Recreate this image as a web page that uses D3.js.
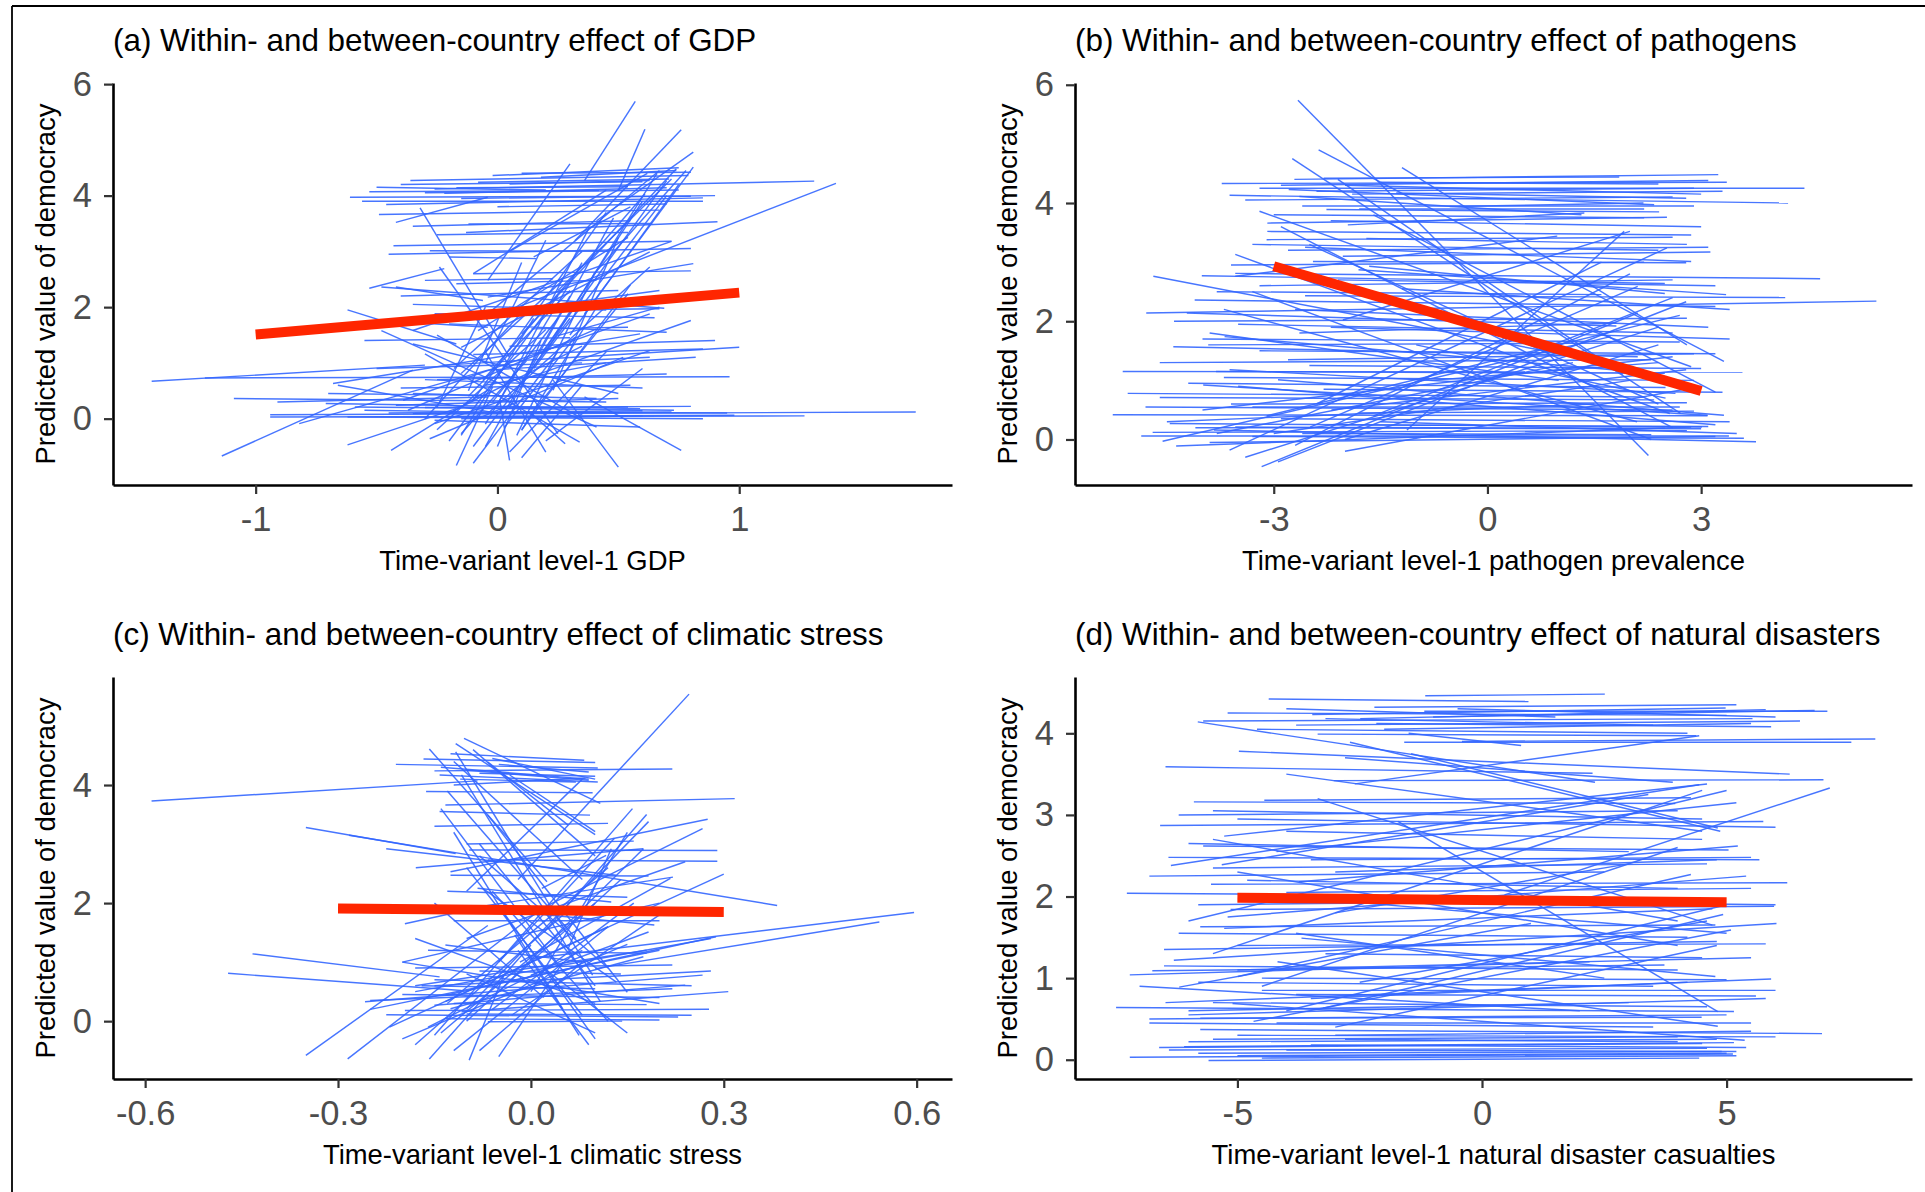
<!DOCTYPE html>
<html>
<head>
<meta charset="utf-8">
<script src="https://cdn.jsdelivr.net/npm/d3@7"></script>
<style>
  body { margin: 0; background: #fff; }
  text { font-family: "Liberation Sans", Arial, Helvetica, sans-serif; }
</style>
</head>
<body>
<div id="main"></div>
<script>
const ctx = {
    w: 1925,
    h: 1192
};

// panel titles and axis labels
const titles = [
    "(a) Within- and between-country effect of GDP",
    "(b) Within- and between-country effect of pathogens",
    "(c) Within- and between-country effect of climatic stress",
    "(d) Within- and between-country effect of natural disasters"
];
const xLabels = [
    "Time-variant level-1 GDP",
    "Time-variant level-1 pathogen prevalence",
    "Time-variant level-1 climatic stress",
    "Time-variant level-1 natural disaster casualties"
];
const yLabel = "Predicted value of democracy";

// tick values
const xTicksA = [-1, 0, 1];
const xTicksB = [-3, 0, 3];
const xTicksC = [-0.6, -0.3, 0, 0.3, 0.6];
const xTicksD = [-5, 0, 5];
const yTicksA = [0, 2, 4, 6];
const yTicksB = [0, 2, 4, 6];
const yTicksC = [0, 2, 4];
const yTicksD = [0, 1, 2, 3, 4];

// axis ranges (data units)
const xDomA = [-1.59, 1.88], yDomA = [-1.19, 6.02];
const xDomB = [-5.79, 5.96], yDomB = [-0.77, 6.03];
const xDomC = [-0.65, 0.655], yDomC = [-0.98, 5.83];
const xDomD = [-8.32, 8.79], yDomD = [-0.236, 4.69];

// overall (between-country) effect: [x1, y1, x2, y2]
const redA = [-1, 1.51, 1, 2.26];
const redB = [-3, 2.93, 3, 0.82];
const redC = [-0.3, 1.91, 0.3, 1.85];
const redD = [-5, 1.985, 5, 1.93];

// within-country lines, one per country: [x1, y1, x2, y2]
const gdpLines = [
[-0.36,4.27,0.79,4.36],[-0.02,4.36,0.75,4.50],[-0.53,4.07,0.42,4.09],[-0.61,3.97,0.80,3.99],
[-0.56,3.90,0.85,3.90],[-0.46,3.84,0.85,3.96],[-0.26,4.12,1.31,4.26],[-0.22,4.04,0.70,4.14],
[-0.08,4.24,0.71,4.30],[-0.17,4.14,0.54,4.16],[-0.49,3.66,0.67,3.74],[-0.42,3.52,-0.04,3.97],
[-0.12,3.49,0.64,3.50],[-0.25,3.30,0.54,3.34],[-0.43,3.10,0.72,3.18],[-0.28,3.01,0.46,3.00],
[-0.20,2.90,0.16,2.87],[-0.13,3.34,0.91,3.53],[0.05,4.21,0.63,4.27],[0.18,4.33,0.74,4.45],
[0.36,4.27,0.57,5.69],[0.50,4.09,0.61,5.19],[0.32,3.19,0.76,5.18],[0.41,3.55,0.81,4.78],
[-0.32,3.78,0.05,1.10],[0.01,1.88,1.40,4.22],[-1.14,-0.67,-0.35,0.87],[-1.43,0.67,-0.30,0.96],
[-1.21,0.73,0.96,0.75],[-1.09,0.36,0.45,0.30],[-0.94,0.07,1.73,0.12],[-0.94,0.03,1.27,0.05],
[-0.62,-0.47,-0.17,0.18],[-0.44,-0.57,-0.04,0.51],[-0.17,-0.84,-0.02,0.57],[0.05,-0.75,0.01,0.33],
[0.50,-0.87,0.23,0.69],[0.76,-0.57,0.36,0.39],[0.28,-0.45,0.14,0.09],[-0.53,2.34,-0.22,2.69],
[-0.62,1.95,-0.17,1.34],[1.00,1.28,-0.22,0.96],[0.82,1.10,-0.04,0.87],[0.81,2.78,-0.04,2.18],
[0.72,3.18,-0.35,1.58],[0.67,2.30,-0.04,1.88],[0.69,1.98,-0.48,2.36],[0.80,1.76,0.10,0.69],
[0.63,2.99,-0.15,1.28],[0.54,3.25,-0.08,1.58],[0.67,4.45,-0.04,1.88],[0.74,4.48,0.10,1.52],
[0.70,4.27,0.18,1.16],[0.61,4.03,-0.06,0.69],[0.45,3.70,-0.10,0.33],[0.81,4.51,0.36,1.88],
[0.30,4.57,-0.04,2.48],[-0.24,2.72,0.25,-0.27],[-0.35,1.34,0.50,0.45],[-0.48,1.58,0.41,-0.15],
[-0.30,1.16,0.34,-0.42],[0.63,1.22,-0.26,-0.09],[0.52,1.10,-0.28,-0.36],[0.41,1.61,-0.37,0.15],
[0.59,1.52,-0.68,0.63],[0.63,1.88,-0.39,0.33],[-0.82,-0.09,-0.04,0.87],[-0.66,0.60,0.01,0.09],
[-0.71,0.27,0.59,0.18],[-0.59,0.21,0.73,0.15],[-0.42,0.24,0.50,0.36],[-0.26,-0.03,0.59,-0.15],
[-0.15,-0.27,0.12,1.04],[0.03,-0.15,0.32,1.46],[0.10,-0.21,0.41,2.00],[0.14,0.09,0.54,2.24],
[-0.04,0.09,0.63,2.72],[0.23,0.51,0.50,3.25],[-0.15,0.81,0.27,2.48],[0.01,0.33,0.38,3.43],
[-0.30,2.48,0.23,2.51],[-0.17,2.42,0.41,2.48],[-0.42,2.36,-0.06,2.12],[-0.26,1.88,0.65,1.81],
[-0.04,1.94,0.67,1.97],[-0.48,1.76,-0.04,1.64],[0.14,1.61,0.54,1.64],[0.25,1.49,0.67,2.00],
[0.32,1.04,0.63,1.10],[-0.62,0.03,0.85,0.00],[-0.35,0.09,0.72,0.12],[-0.21,0.04,0.98,0.06],
[-0.08,0.18,0.54,0.21],[-0.35,0.45,0.41,0.36],[-0.91,0.30,-0.04,0.39],[-0.10,-0.50,0.30,1.80],
[0.20,-0.60,-0.05,1.20],[-0.20,0.10,0.35,1.30],[0.35,0.00,-0.25,1.50],[-0.05,0.60,0.45,1.00],
[0.60,0.55,-0.30,0.70],[0.15,2.90,0.55,3.80],[-0.10,2.60,0.45,4.10],[0.05,3.00,0.62,4.40],
[0.25,2.30,0.72,4.30],
[-0.45,0.10,0.60,0.14],[-0.30,0.20,0.80,0.22],[-0.55,0.15,0.25,0.10],[-0.15,0.00,0.60,0.05],
[0.00,0.12,0.95,0.10],[-0.70,0.45,0.20,0.40],[-0.40,0.55,0.55,0.60],[-0.25,0.70,0.70,0.80],
[-0.50,0.90,0.35,1.00],[-0.10,1.15,0.85,1.25],
[-0.20,-0.40,0.25,2.20],[-0.05,-0.10,0.35,2.80],[0.05,0.20,0.48,3.60],[-0.12,0.40,0.30,2.30],
[0.10,0.60,0.60,3.90],[-0.25,-0.20,0.20,1.60],[0.00,-0.50,0.18,1.40],[0.15,0.90,0.70,4.00],
[0.20,1.20,0.66,4.40],[-0.30,0.00,0.10,1.90],[0.08,-0.30,0.40,2.60],[-0.18,0.90,0.35,3.00],
[0.30,1.50,0.75,4.20],[0.40,2.60,0.78,4.45],[-0.02,0.30,0.25,1.80],
[0.30,2.20,-0.05,-0.50],[0.15,1.80,-0.15,-0.30],[0.55,2.40,0.10,-0.20],[0.10,2.80,-0.12,0.50],
[0.45,1.20,0.05,-0.60],[0.20,3.20,-0.05,1.00],[0.35,0.60,0.10,-0.70],[-0.05,2.00,-0.25,0.20],
[0.25,1.20,-0.10,-0.80],[0.60,0.90,0.20,-0.40],
[-0.40,4.20,0.60,4.25],[-0.30,4.05,0.75,4.10],[0.10,4.40,0.80,4.42],[-0.50,4.15,0.20,4.10],
[-0.15,3.95,0.90,4.00],[0.00,3.80,0.70,3.85],[-0.35,3.45,0.55,3.55],[-0.45,2.95,0.80,3.05],
[-0.40,2.20,0.50,2.30],[-0.20,1.70,0.70,1.55],[-0.55,1.40,0.30,1.45],[-0.10,2.60,0.80,2.65],
[0.05,1.30,0.90,1.40],[-0.35,2.05,0.45,1.95]
];

const pathogenLines = [
[-3.73,4.33,3.36,4.35],[-2.71,4.40,3.24,4.48],[-2.30,4.42,1.85,4.44],[-3.20,4.25,4.45,4.25],
[-3.62,4.13,4.22,4.00],[-2.79,4.23,2.34,3.97],[-2.26,3.89,2.41,3.85],[-1.96,3.63,1.36,3.83],
[-3.09,3.66,2.52,3.76],[-1.28,4.17,2.79,4.08],[-0.53,3.94,2.19,4.00],[-2.64,4.11,1.32,3.80],
[-3.10,3.38,2.60,3.42],[-2.56,3.25,2.86,3.01],[-2.03,3.10,3.13,3.17],[-2.45,3.01,2.79,2.99],
[-3.54,2.81,4.67,2.72],[-4.01,2.77,2.49,2.64],[-1.81,2.87,3.35,2.45],[-2.56,2.43,4.18,2.40],
[-4.11,2.36,3.20,2.25],[-4.79,2.14,5.46,2.34],[-4.22,2.14,1.81,1.92],[-4.69,2.76,2.19,1.18],
[-3.54,3.13,2.56,0.44],[-2.66,5.74,2.26,-0.27],[-2.37,4.90,3.32,1.32],[-2.74,4.75,2.71,0.44],
[-3.20,3.86,2.86,1.23],[-4.41,1.57,2.11,1.40],[-5.12,1.15,3.58,1.14],[-3.99,0.92,3.09,0.41],
[-5.05,0.78,2.19,0.72],[-5.26,0.42,3.09,0.40],[-4.86,0.06,3.39,0.06],[-3.84,0.16,3.77,-0.04],
[-4.37,-0.11,2.86,0.21],[-3.17,-0.46,2.11,2.14],[-2.94,-0.38,2.79,2.33],[-4.56,-0.03,1.73,1.74],
[-3.62,-0.18,2.52,3.24],[-1.13,0.16,1.92,3.52],[-2.49,0.21,2.11,2.59],[-3.09,3.52,2.86,3.46],
[-3.92,1.60,1.88,1.63],[-3.81,1.15,2.49,1.12],[-4.60,0.71,2.34,0.67],[-4.46,0.27,3.01,0.21],
[-2.19,0.50,2.79,1.18],[-3.54,0.21,2.49,0.19],[-2.64,1.80,1.81,1.97],[-3.69,1.74,2.34,1.12],
[-1.66,2.93,2.49,2.47],[-3.54,2.76,0.98,3.44],[2.00,3.52,-2.03,2.02],[2.64,0.78,-3.62,1.18],
[3.32,0.41,-2.94,1.01],[-4.00,0.50,2.60,1.40],[-3.00,0.10,2.00,1.00],[-2.00,-0.20,3.00,0.90],
[-4.50,0.30,1.50,0.60],[-3.50,0.90,3.20,0.25],[-1.50,0.30,3.50,0.10],[-2.80,1.35,2.90,1.45],
[-1.00,1.60,2.50,0.70],[-3.30,0.55,2.70,0.55],[-2.20,1.90,3.40,1.70],[-0.80,1.00,2.40,1.30],
[-3.90,1.80,1.00,1.00],[-1.80,3.90,2.20,3.90],[-2.00,4.30,3.00,4.15],
[-2.90,4.30,3.10,4.38],[-2.40,4.20,2.90,4.25],[-3.40,4.05,2.60,4.10],[-1.90,4.15,3.30,4.20],
[-2.60,3.95,2.90,3.95],[-1.50,4.35,2.40,4.32],[-3.00,3.80,2.20,3.75],[-2.20,3.70,3.00,3.60],
[-3.30,3.30,2.40,3.20],[-2.80,3.20,3.10,3.25],[-1.70,3.40,2.80,3.30],[-3.60,2.95,2.20,3.00],
[-2.10,2.70,3.20,2.60],[-3.20,2.60,2.60,2.70],[-1.20,2.55,3.40,2.20],[-3.80,2.50,1.60,2.45],
[-4.40,2.00,2.80,2.05],[-3.50,1.95,2.60,1.80],[-2.70,2.20,3.10,1.90],[-4.00,1.70,2.70,1.65],
[-3.20,1.50,3.20,1.45],[-4.60,1.30,2.30,1.35],[-2.50,1.25,3.00,1.20],[-3.70,1.05,2.90,1.00],
[-4.20,0.95,2.50,0.88],[-2.30,0.85,3.30,0.80],
[-3.60,0.60,2.80,0.62],[-4.80,0.55,2.60,0.50],[-2.90,0.35,3.40,0.30],[-4.10,0.20,3.00,0.18],
[-3.30,0.05,3.60,0.02],[-2.60,0.10,2.30,0.08],[-4.70,0.12,2.80,0.15],[-3.90,-0.05,3.20,0.05],
[-2.20,0.25,3.10,0.22],[-1.80,0.45,2.90,0.48],
[-3.40,-0.30,2.40,1.90],[-2.70,-0.10,2.00,2.80],[-3.10,0.40,2.70,2.10],[-2.00,0.00,2.40,1.60],
[-3.80,0.10,1.20,1.30],[-1.60,0.40,2.60,2.40],[-2.40,0.60,1.60,3.00],
[-2.90,3.60,2.60,0.20],[-2.10,4.40,1.90,1.10],[-3.30,2.50,2.30,0.00],[-1.60,3.80,3.20,0.80],
[-2.50,3.30,2.40,0.60],[-3.70,2.20,2.10,0.30],[-1.20,4.60,2.80,1.60]
];

const climateLines = [
[-0.59,3.73,-0.083,4.07],[-0.21,4.35,0.104,4.29],[-0.167,4.44,0.10,4.38],[-0.125,4.53,0.083,4.42],
[-0.15,4.24,0.22,4.27],[-0.142,4.17,0.104,4.05],[-0.163,3.89,0.096,3.87],[-0.133,3.66,0.317,3.77],
[-0.142,3.55,0.092,3.49],[-0.104,4.79,0.108,3.69],[-0.117,4.70,0.10,3.16],[-0.158,4.61,0.025,2.36],
[0.246,5.54,-0.02,2.40],[-0.35,3.28,-0.117,2.84],[-0.283,3.15,0.383,1.96],[-0.225,2.92,0.133,2.47],
[-0.179,2.60,0.175,2.92],[-0.096,2.90,0.29,2.89],[-0.067,2.73,0.29,2.71],[-0.125,2.47,0.183,2.46],
[-0.433,1.14,-0.142,0.75],[-0.471,0.81,-0.108,0.52],[0.596,1.84,0.0,1.06],[0.542,1.68,0.10,0.89],
[-0.196,1.65,-0.067,1.96],[0.275,3.42,-0.125,2.53],[0.267,3.26,0.017,1.91],[0.30,2.49,-0.133,0.33],
[0.221,2.44,-0.067,1.96],[-0.35,-0.58,-0.067,1.62],[-0.285,-0.64,0.017,1.91],[-0.158,-0.64,0.0,1.29],
[-0.096,-0.66,-0.042,0.78],[-0.258,0.33,0.267,0.78],[-0.225,0.11,0.229,0.07],[-0.196,0.18,0.277,0.20],
[-0.133,0.04,0.20,0.02],[-0.067,-0.01,0.142,0.0],[0.307,0.50,-0.108,0.16],[0.24,0.61,-0.15,0.27],
[0.288,1.43,-0.133,0.44],[0.175,1.09,-0.125,0.21],[0.075,-0.24,-0.025,1.46],[0.133,0.66,-0.075,2.25],
[0.15,0.49,-0.067,3.49],[0.108,0.33,-0.108,4.17],[0.096,0.78,-0.117,4.56],[-0.15,-0.24,0.158,3.60],
[-0.10,0.21,0.183,3.38],[-0.05,0.50,0.175,2.92],[-0.017,1.00,0.217,2.42],[0.192,1.63,-0.083,1.91],
[0.058,1.23,0.125,2.92],[0.017,2.25,0.117,2.81],[-0.133,1.29,0.083,1.00],[-0.033,4.17,0.10,3.21],
[-0.067,4.39,0.058,3.32],[-0.083,2.25,0.125,2.02],[0.0,0.78,0.183,1.51],[-0.12,-0.50,0.12,1.60],
[-0.05,-0.60,0.05,1.00],[-0.20,-0.30,0.15,1.30],[-0.10,0.80,0.10,-0.20],[0.02,0.90,0.15,-0.20],
[-0.25,0.35,0.22,0.55],[-0.15,0.60,0.28,0.85],[-0.18,1.40,0.10,0.30],[-0.08,2.80,0.12,0.90],
[-0.13,3.90,0.07,1.40],[0.08,4.10,-0.10,2.20],[-0.06,4.45,0.10,4.10],[-0.10,4.25,0.09,4.08],
[-0.12,4.00,0.085,4.12],
[-0.18,-0.40,0.05,1.80],[-0.14,-0.20,0.10,2.00],[-0.10,0.00,0.14,2.40],[-0.06,0.20,0.16,2.00],
[-0.16,-0.10,0.08,1.20],[-0.22,-0.10,0.12,1.60],[-0.08,-0.50,0.08,1.00],[-0.03,0.10,0.20,1.80],
[-0.13,0.30,0.12,2.60],[0.00,0.50,0.15,3.20],[-0.05,1.00,0.13,3.10],[0.02,1.50,0.18,3.50],
[-0.12,3.20,0.05,0.20],[-0.10,2.60,0.08,0.10],[-0.06,2.20,0.12,0.00],[-0.14,3.60,0.04,1.00],
[-0.08,3.00,0.10,0.60],[-0.04,1.80,0.10,-0.30],[-0.12,4.40,0.08,2.40],[-0.09,4.60,0.10,2.80],
[-0.15,2.00,0.02,0.40],[-0.02,1.20,0.09,-0.40],
[-0.14,4.30,0.09,4.10],[-0.08,4.20,0.10,4.15],[-0.11,4.10,0.07,4.05],[-0.05,4.35,0.09,4.22],
[-0.15,3.30,0.12,3.35],[-0.10,3.00,0.16,3.05],[-0.13,2.20,0.15,2.10],[-0.12,1.70,0.20,1.70],
[-0.16,1.20,0.18,1.15],[-0.18,0.90,0.22,0.95],[-0.15,0.70,0.25,0.60],[-0.20,0.45,0.20,0.40],
[-0.12,0.30,0.18,0.28],[-0.10,0.12,0.25,0.10],[-0.17,0.60,0.10,0.55],[-0.08,0.85,0.14,0.80],
[-0.25,0.20,0.20,1.20],[-0.18,0.50,0.28,1.40],[-0.20,1.00,0.20,2.00],[-0.10,1.40,0.24,2.70],
[0.20,0.30,-0.20,1.00],[0.18,1.20,-0.18,0.60]
];

const disasterLines = [
[-4.36,4.42,0.95,4.39],[-1.16,4.46,2.51,4.48],[-5.70,4.15,5.53,4.18],[-3.47,4.23,4.98,4.31],
[-2.49,4.18,5.80,4.29],[-2.16,4.12,5.91,4.08],[-3.36,3.99,4.38,3.97],[-1.59,3.89,7.55,3.89],
[-0.41,3.90,8.04,3.93],[-1.18,4.27,7.06,4.27],[-5.81,4.14,2.31,3.40],[-2.70,3.89,4.87,2.80],
[-1.45,3.75,4.82,2.84],[-4.97,3.78,6.29,3.50],[-6.47,3.59,2.26,3.51],[-3.03,3.42,6.98,3.43],
[-2.60,3.38,4.44,3.97],[-5.89,3.16,3.95,3.14],[-4.45,3.18,4.27,3.21],[-6.58,2.87,5.75,2.92],
[-5.27,2.74,4.60,3.38],[-6.36,2.38,4.44,3.37],[-5.32,2.39,3.40,3.25],[-5.70,2.62,5.04,2.57],
[-6.41,2.48,5.67,2.45],[-3.74,2.18,5.23,2.62],[-5.54,2.15,6.24,2.17],[-7.26,2.04,-2.60,2.02],
[-5.14,1.84,5.97,1.88],[7.11,3.33,0.46,2.02],[-5.76,1.63,4.77,1.65],[-5.27,1.61,4.71,1.85],
[-6.30,1.22,6.02,1.67],[-7.20,1.04,2.20,1.20],[-6.74,1.09,3.73,1.16],[-6.19,0.89,1.00,1.67],
[-6.47,0.70,5.91,0.99],[-7.48,0.64,5.15,0.59],[-5.76,0.51,4.49,0.52],[-5.76,0.37,6.95,0.32],
[-6.09,0.16,5.15,0.21],[-7.20,0.03,5.13,0.07],[-5.59,-0.01,4.44,0.02],[-5.10,0.69,5.37,0.24],
[-4.67,0.47,5.09,1.59],[-3.69,1.49,4.77,1.02],[-4.18,1.20,4.82,0.41],[-3.25,0.63,4.93,1.78],
[-1.72,2.92,4.82,0.59],[-3.36,3.20,4.71,1.65],[-4.99,1.02,4.27,2.27],[-6.50,1.35,4.80,1.45],
[-5.00,1.10,5.50,1.25],[-4.50,0.85,6.00,0.85],[-3.50,0.75,4.20,0.95],[-5.50,0.25,4.00,0.28],
[-4.00,0.12,5.20,0.10],[-6.80,0.45,3.50,0.40],[-3.00,1.95,5.00,1.55],[-5.20,1.75,5.40,2.25],
[-2.50,0.95,4.60,1.70],[-4.80,2.20,4.00,2.10],[-6.00,0.55,5.80,0.75],[-3.80,1.55,2.50,1.00],
[-5.50,3.05,4.50,2.95],[-4.20,2.55,5.20,3.15],[-3.00,2.30,4.80,2.45],[-2.00,4.05,5.50,4.12],
[-3.20,4.18,3.50,4.10],[-1.50,4.00,0.80,3.85],[-2.80,3.70,3.90,3.40],[-0.50,4.30,6.00,4.20],
[-4.00,4.30,1.50,4.20],[-6.60,0.15,4.50,0.20],[-5.00,0.05,5.00,0.08],[-3.00,0.30,5.50,0.35],
[-6.00,0.60,3.00,0.70],[-7.00,0.90,2.00,0.60],
[-5.20,4.25,5.00,4.22],[-3.80,4.10,6.50,4.15],[-1.00,4.20,6.80,4.28],[-4.60,4.05,4.20,4.00],
[-2.20,4.32,5.20,4.35],[-6.20,3.00,4.00,3.05],[-5.00,2.95,6.00,2.85],[-4.00,2.80,4.50,2.70],
[-6.00,2.65,3.00,2.55],[-5.50,2.35,4.60,2.40],[-3.50,2.45,5.50,2.48],[-6.80,2.25,2.50,2.30],
[-4.00,2.05,5.50,2.10],[-2.00,1.95,6.00,1.90],[-5.80,1.90,3.00,1.95],[-6.20,1.55,4.20,1.50],
[-5.00,1.40,5.80,1.42],[-3.20,1.30,4.50,1.25],[-6.50,1.15,4.00,1.10],[-4.50,1.00,5.00,0.98],
[-5.80,0.95,3.50,0.90],[-3.80,0.80,5.60,0.78],[-5.50,0.70,4.60,0.65],[-6.80,0.50,5.00,0.55],
[-4.20,0.45,5.50,0.45],[-5.00,0.30,6.00,0.28],[-6.00,0.22,4.80,0.25],[-3.50,0.18,5.40,0.15],
[-5.80,0.08,4.90,0.10],[-4.50,0.02,5.20,0.05],[-6.40,0.12,4.60,0.14],[-2.80,0.25,4.00,0.22],
[-5.50,1.30,4.50,3.30],[-4.50,0.90,4.00,2.60],[-6.00,1.70,5.00,3.30],[-3.00,0.40,4.80,1.40],
[-5.00,2.30,4.00,1.40],[-4.00,3.50,4.50,2.80],[-5.50,2.70,4.00,1.70],[-3.00,1.80,3.00,2.40],
[-4.00,0.60,5.00,1.90]
];

// panel boxes (pixels)
const panels = [
    {left: 113, top: 83, width: 839, height: 402, title: titles[0], xLab: xLabels[0],
     xDom: xDomA, yDom: yDomA, xTicks: xTicksA, yTicks: yTicksA, lines: gdpLines, red: redA, fmt: d => String(d)},
    {left: 1075, top: 83, width: 837, height: 402, title: titles[1], xLab: xLabels[1],
     xDom: xDomB, yDom: yDomB, xTicks: xTicksB, yTicks: yTicksB, lines: pathogenLines, red: redB, fmt: d => String(d)},
    {left: 113, top: 677, width: 839, height: 402, title: titles[2], xLab: xLabels[2],
     xDom: xDomC, yDom: yDomC, xTicks: xTicksC, yTicks: yTicksC, lines: climateLines, red: redC, fmt: d => d.toFixed(1)},
    {left: 1075, top: 677, width: 837, height: 402, title: titles[3], xLab: xLabels[3],
     xDom: xDomD, yDom: yDomD, xTicks: xTicksD, yTicks: yTicksD, lines: disasterLines, red: redD, fmt: d => String(d)}
];

function drawPanel(svg, p) {
    const g = svg.append("g").attr("transform", `translate(${p.left},${p.top})`);
    const x = d3.scaleLinear().domain(p.xDom).range([0, p.width]);
    const y = d3.scaleLinear().domain(p.yDom).range([p.height, 0]);

    // country lines
    g.append("g")
        .selectAll("line")
        .data(p.lines)
        .enter().append("line")
        .attr("x1", d => x(d[0])).attr("y1", d => y(d[1]))
        .attr("x2", d => x(d[2])).attr("y2", d => y(d[3]))
        .attr("stroke", "#3366FF")
        .attr("stroke-opacity", 0.9)
        .attr("stroke-width", 1.45);

    // overall line
    g.append("line")
        .attr("x1", x(p.red[0])).attr("y1", y(p.red[1]))
        .attr("x2", x(p.red[2])).attr("y2", y(p.red[3]))
        .attr("stroke", "#FF2600")
        .attr("stroke-width", 10);

    const xAxis = g.append("g")
        .attr("transform", `translate(0,${p.height})`)
        .call(d3.axisBottom(x).tickValues(p.xTicks).tickFormat(p.fmt).tickSize(9).tickSizeOuter(0).tickPadding(13));
    const yAxis = g.append("g")
        .call(d3.axisLeft(y).tickValues(p.yTicks).tickFormat(d => String(d)).tickSize(9).tickSizeOuter(0).tickPadding(12));

    [xAxis, yAxis].forEach(a => {
        a.select(".domain").attr("stroke", "#000").attr("stroke-width", 2.6);
        a.selectAll(".tick line").attr("stroke", "#333").attr("stroke-width", 2.2);
        a.selectAll(".tick text")
            .attr("fill", "#4D4D4D")
            .style("font-family", '"Liberation Sans", Arial, sans-serif')
            .style("font-size", "34.5px");
    });

    // titles
    g.append("text")
        .attr("x", 0).attr("y", -32)
        .style("font-size", "31.4px")
        .attr("fill", "#000")
        .text(p.title);
    g.append("text")
        .attr("x", p.width / 2).attr("y", p.height + 85)
        .attr("text-anchor", "middle")
        .style("font-size", "27.4px")
        .attr("fill", "#000")
        .text(p.xLab);
    g.append("text")
        .attr("transform", `translate(-58,${p.height / 2}) rotate(-90)`)
        .attr("text-anchor", "middle")
        .style("font-size", "27.4px")
        .attr("fill", "#000")
        .text(yLabel);
}

function createViz() {
    const svg = d3.select("#main").append("svg")
        .attr("width", ctx.w)
        .attr("height", ctx.h)
        .style("display", "block");
    svg.append("rect").attr("width", ctx.w).attr("height", ctx.h).attr("fill", "#fff");
    // frame of the original figure (only top and left edges are visible)
    svg.append("line").attr("x1", 12).attr("y1", 6).attr("x2", ctx.w).attr("y2", 6)
        .attr("stroke", "#000").attr("stroke-width", 1.8);
    svg.append("line").attr("x1", 12).attr("y1", 6).attr("x2", 12).attr("y2", ctx.h)
        .attr("stroke", "#000").attr("stroke-width", 1.8);
    panels.forEach(p => drawPanel(svg, p));
}

createViz();
</script>
</body>
</html>
